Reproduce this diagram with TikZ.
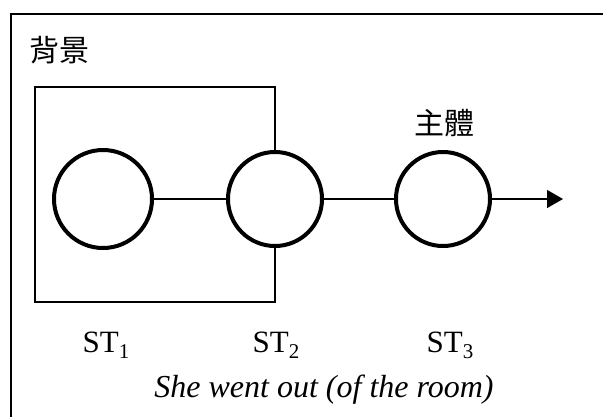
\documentclass[tikz,border=0pt]{standalone}
\usepackage{fontspec}
\setmainfont{Liberation Serif}
\newfontfamily\cjk{Noto Sans CJK TC}
\usetikzlibrary{arrows.meta}
\newcommand{\sub}[1]{\raisebox{-0.45ex}{\fontsize{21}{21}\selectfont #1}}
\begin{document}
\begin{tikzpicture}[x=1pt,y=-1pt,
  state/.style={circle,draw,line width=4pt,fill=white,inner sep=0pt,minimum size=#1},
  state/.default=94pt,
  lbl/.style={font=\fontsize{31}{36}\selectfont,inner sep=0pt,anchor=base},
  cjklbl/.style={font=\cjk\fontsize{30}{36}\selectfont,inner sep=0pt},
  frame/.style={line width=1.6pt},
  link/.style={line width=1.4pt}]
\useasboundingbox (0,0) rectangle (603,416);
% outer frame (only the top and left edges fall inside the page)
\draw[frame] (11,420) -- (11,14) -- (610,14);
% background box
\draw[link] (275,87) -- (35,87) -- (35,302) -- (275,302) -- cycle;
% states
\node[state=98pt] (s1) at (103,199) {};
\node[state] (s2) at (275,199) {};
\node[state] (s3) at (443,199) {};
\coordinate (end) at (563,199);
\draw[link] (s1) -- (s2);
\draw[link] (s2) -- (s3);
\draw[link,-{Triangle[length=16pt,width=18pt]}] (s3) -- (end);
% labels
\node[cjklbl] (bg) at (59,50) {背景};
\node[cjklbl] (fg) at (444,123) {主體};
\node[lbl] (t1) at (106,352) {ST\sub{1}};
\node[lbl] (t2) at (276,352) {ST\sub{2}};
\node[lbl] (t3) at (450,352) {ST\sub{3}};
\node[lbl,font=\fontsize{32}{36}\selectfont] (cap) at (324,397) {\itshape She went out (of the room)};
\end{tikzpicture}
\end{document}
